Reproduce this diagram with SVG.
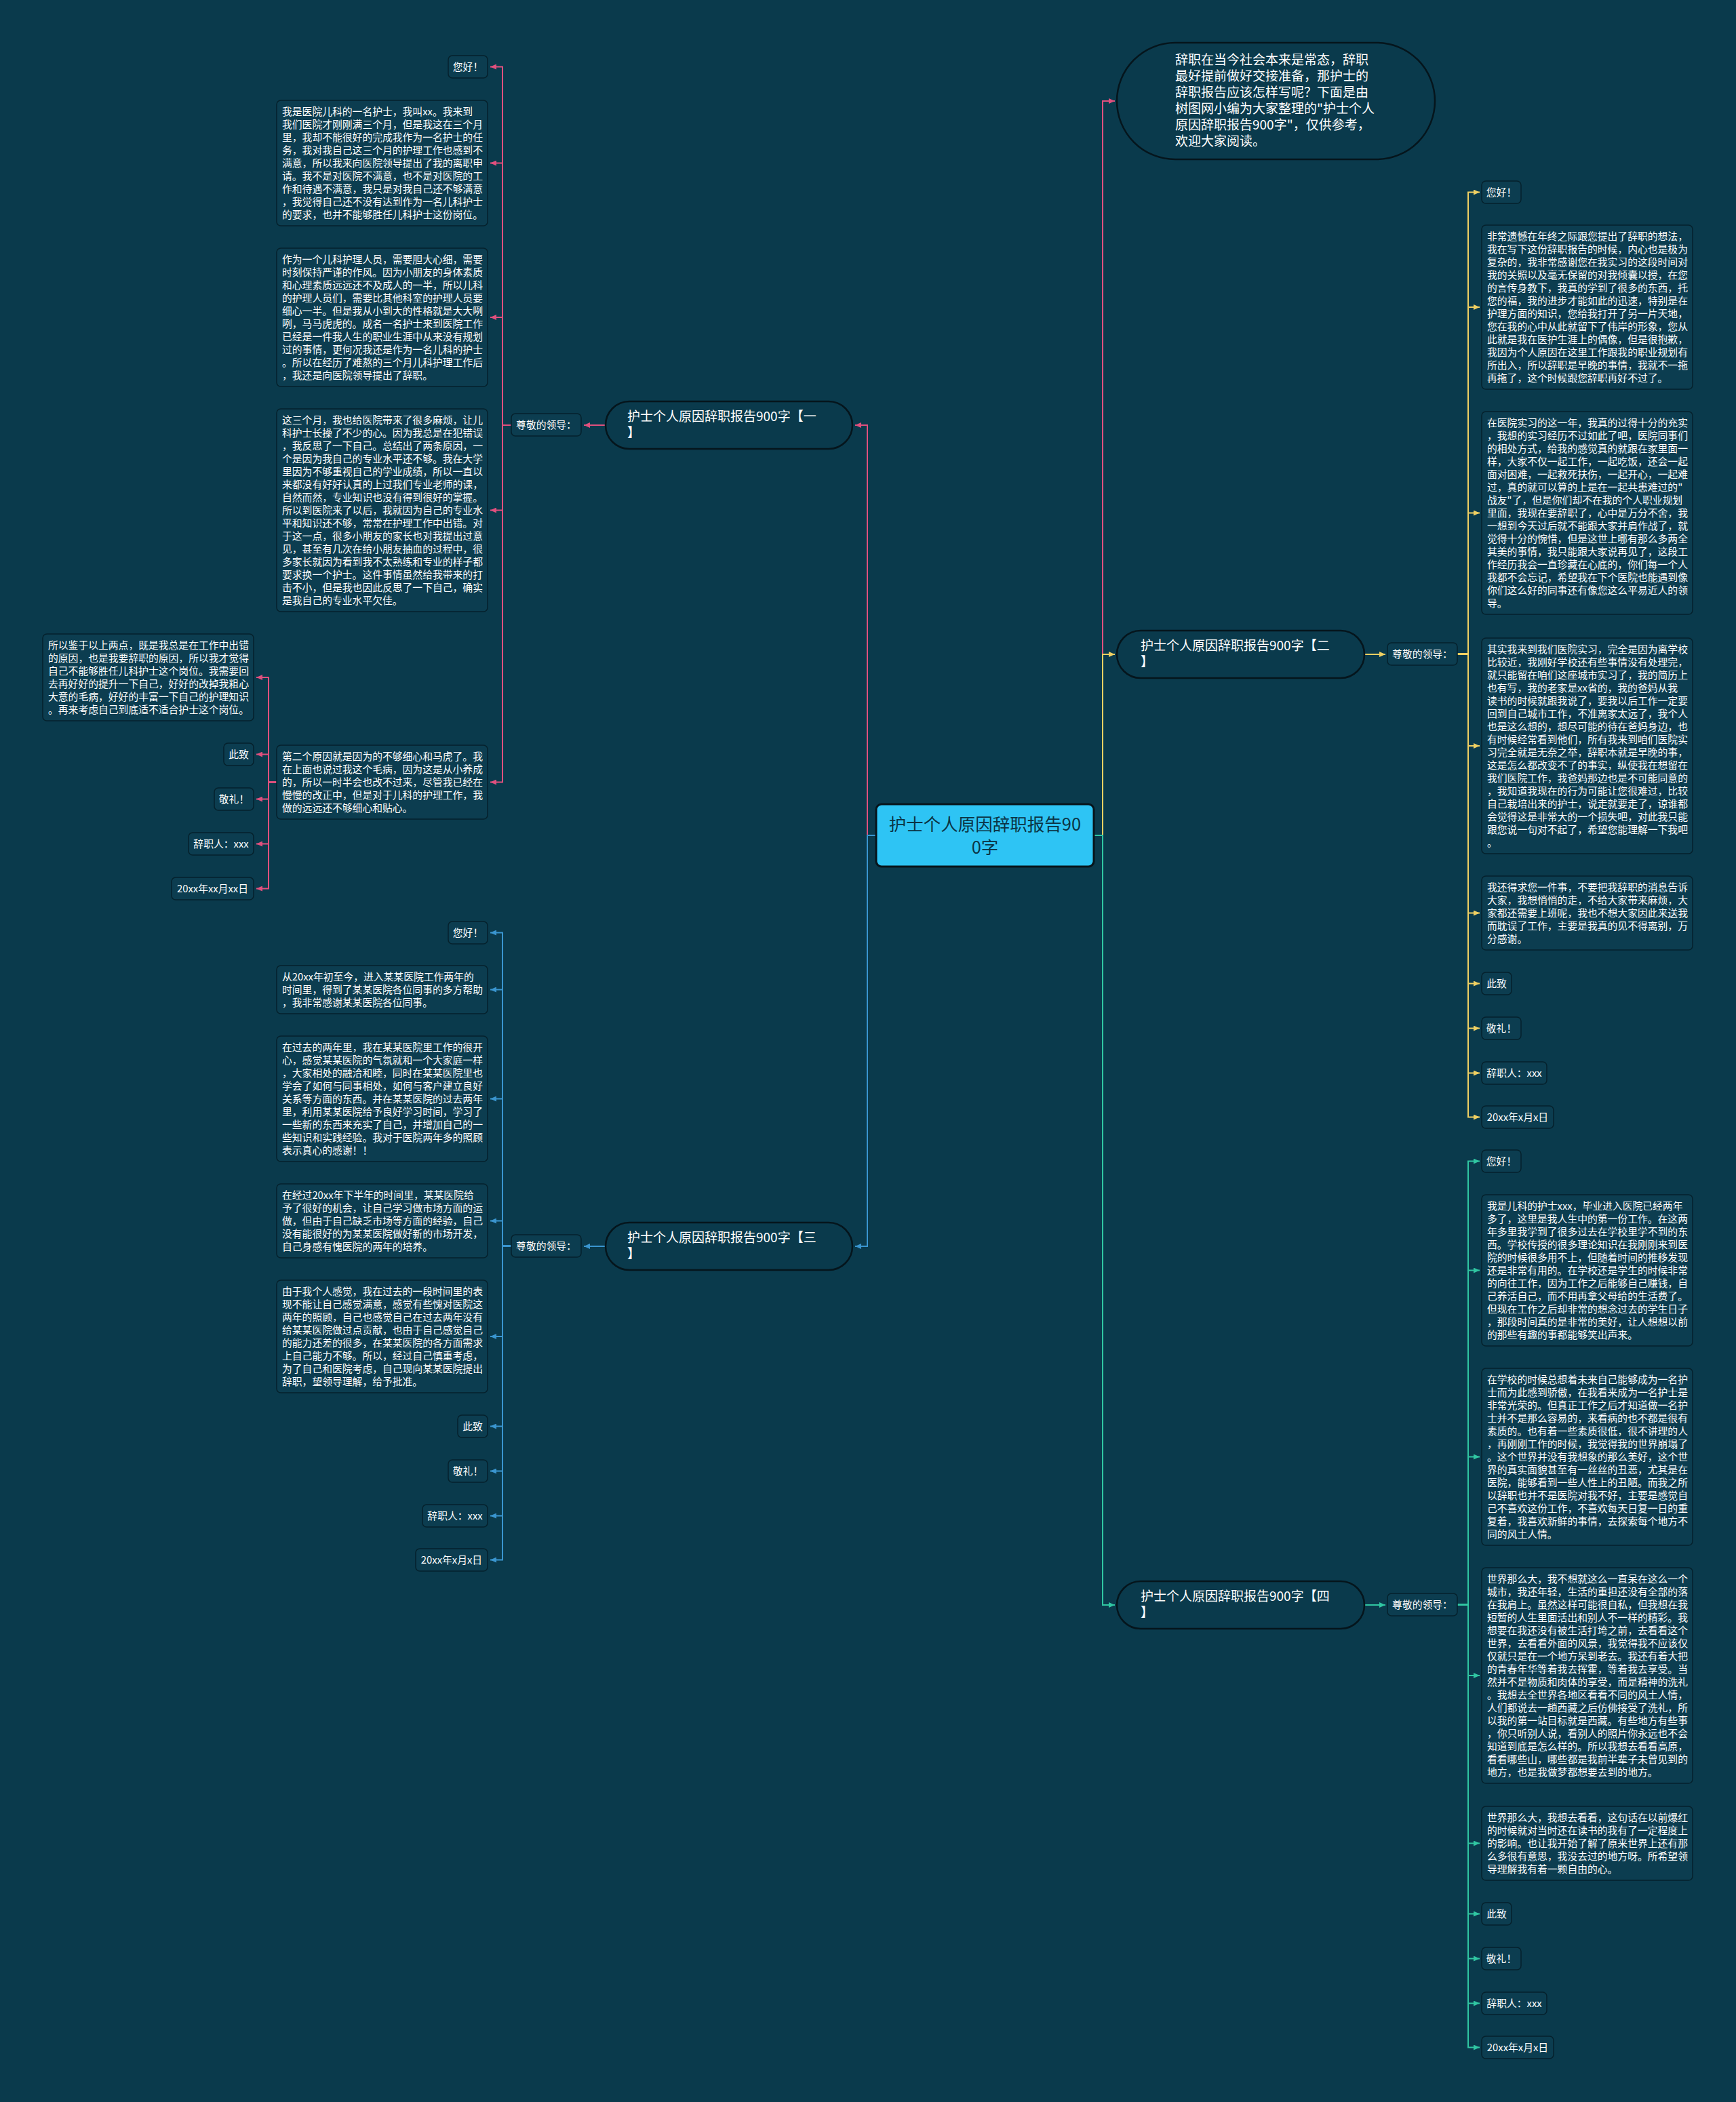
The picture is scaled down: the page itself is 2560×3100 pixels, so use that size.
<svg xmlns="http://www.w3.org/2000/svg" width="2560" height="3100" viewBox="0 0 2560 3100">
<defs>
<style>
.t{font-family:"Noto Sans CJK SC","Noto Sans",sans-serif;font-size:14.8px;fill:#ffffff}
.tm{font-family:"Noto Sans CJK SC","Noto Sans",sans-serif;font-size:14.8px;fill:#ffffff;text-anchor:middle}
.tb{font-family:"Noto Sans CJK SC","Noto Sans",sans-serif;font-size:19px;fill:#ffffff}
.ti{font-family:"Noto Sans CJK SC","Noto Sans",sans-serif;font-size:19px;fill:#ffffff}
.tc{font-family:"Noto Sans CJK SC","Noto Sans",sans-serif;font-size:25.5px;fill:#0b3445;text-anchor:middle}
.box{fill:#0c3d50;stroke:#05212c;stroke-width:1.5}
.pill{fill:#0a3a4c;stroke:#05151c;stroke-width:2.5}
.pk{fill:none;stroke:#e0507e;stroke-width:2}
.yl{fill:none;stroke:#f0d062;stroke-width:2}
.bl{fill:none;stroke:#3a95cf;stroke-width:2}
.tl{fill:none;stroke:#30c6a2;stroke-width:2}
</style>
<marker id="apk" markerUnits="userSpaceOnUse" markerWidth="9" markerHeight="8" refX="9" refY="4" orient="auto"><path d="M0,0 L9,4 L0,8 z" fill="#e0507e"/></marker>
<marker id="ayl" markerUnits="userSpaceOnUse" markerWidth="9" markerHeight="8" refX="9" refY="4" orient="auto"><path d="M0,0 L9,4 L0,8 z" fill="#f0d062"/></marker>
<marker id="abl" markerUnits="userSpaceOnUse" markerWidth="9" markerHeight="8" refX="9" refY="4" orient="auto"><path d="M0,0 L9,4 L0,8 z" fill="#3a95cf"/></marker>
<marker id="atl" markerUnits="userSpaceOnUse" markerWidth="9" markerHeight="8" refX="9" refY="4" orient="auto"><path d="M0,0 L9,4 L0,8 z" fill="#30c6a2"/></marker>
</defs>
<rect x="0" y="0" width="2560" height="3100" fill="#0a3a4c"/>

<g id="connectors">
<path class="pk" d="M1292,1232 H1279 V627 H1261" marker-end="url(#apk)"/>
<path class="bl" d="M1292,1232 H1279 V1838 H1261" marker-end="url(#abl)"/>
<path class="pk" d="M1613,1232 H1626 V149 H1644" marker-end="url(#apk)"/>
<path class="yl" d="M1613,1232 H1626 V965 H1644" marker-end="url(#ayl)"/>
<path class="tl" d="M1613,1232 H1626 V2367 H1644" marker-end="url(#atl)"/>
<path class="pk" d="M893,627 H861" marker-end="url(#apk)"/>
<path class="pk" d="M754,627 H741 V98.5 H723" marker-end="url(#apk)"/>
<path class="pk" d="M754,627 H741 V240.5 H723" marker-end="url(#apk)"/>
<path class="pk" d="M754,627 H741 V468 H723" marker-end="url(#apk)"/>
<path class="pk" d="M754,627 H741 V752.5 H723" marker-end="url(#apk)"/>
<path class="pk" d="M754,627 H741 V1153.5 H723" marker-end="url(#apk)"/>
<path class="pk" d="M408,1153.5 H396 V999 H378" marker-end="url(#apk)"/>
<path class="pk" d="M408,1153.5 H396 V1112.5 H378" marker-end="url(#apk)"/>
<path class="pk" d="M408,1153.5 H396 V1178.5 H378" marker-end="url(#apk)"/>
<path class="pk" d="M408,1153.5 H396 V1244.5 H378" marker-end="url(#apk)"/>
<path class="pk" d="M408,1153.5 H396 V1310.5 H378" marker-end="url(#apk)"/>
<path class="bl" d="M893,1838 H861" marker-end="url(#abl)"/>
<path class="bl" d="M754,1837.5 H741 V1375.5 H723" marker-end="url(#abl)"/>
<path class="bl" d="M754,1837.5 H741 V1459.5 H723" marker-end="url(#abl)"/>
<path class="bl" d="M754,1837.5 H741 V1620.5 H723" marker-end="url(#abl)"/>
<path class="bl" d="M754,1837.5 H741 V1800.5 H723" marker-end="url(#abl)"/>
<path class="bl" d="M754,1837.5 H741 V1971 H723" marker-end="url(#abl)"/>
<path class="bl" d="M754,1837.5 H741 V2103.5 H723" marker-end="url(#abl)"/>
<path class="bl" d="M754,1837.5 H741 V2169.5 H723" marker-end="url(#abl)"/>
<path class="bl" d="M754,1837.5 H741 V2235.5 H723" marker-end="url(#abl)"/>
<path class="bl" d="M754,1837.5 H741 V2300.5 H723" marker-end="url(#abl)"/>
<path class="yl" d="M2012,965 H2043" marker-end="url(#ayl)"/>
<path class="yl" d="M2149,964.5 H2165 V283.5 H2182" marker-end="url(#ayl)"/>
<path class="yl" d="M2149,964.5 H2165 V453 H2182" marker-end="url(#ayl)"/>
<path class="yl" d="M2149,964.5 H2165 V756.5 H2182" marker-end="url(#ayl)"/>
<path class="yl" d="M2149,964.5 H2165 V1100 H2182" marker-end="url(#ayl)"/>
<path class="yl" d="M2149,964.5 H2165 V1346.5 H2182" marker-end="url(#ayl)"/>
<path class="yl" d="M2149,964.5 H2165 V1450.5 H2182" marker-end="url(#ayl)"/>
<path class="yl" d="M2149,964.5 H2165 V1516.5 H2182" marker-end="url(#ayl)"/>
<path class="yl" d="M2149,964.5 H2165 V1582.5 H2182" marker-end="url(#ayl)"/>
<path class="yl" d="M2149,964.5 H2165 V1647.5 H2182" marker-end="url(#ayl)"/>
<path class="tl" d="M2012,2367 H2043" marker-end="url(#atl)"/>
<path class="tl" d="M2149,2366.5 H2165 V1712.5 H2182" marker-end="url(#atl)"/>
<path class="tl" d="M2149,2366.5 H2165 V1873.5 H2182" marker-end="url(#atl)"/>
<path class="tl" d="M2149,2366.5 H2165 V2148.5 H2182" marker-end="url(#atl)"/>
<path class="tl" d="M2149,2366.5 H2165 V2471 H2182" marker-end="url(#atl)"/>
<path class="tl" d="M2149,2366.5 H2165 V2718.5 H2182" marker-end="url(#atl)"/>
<path class="tl" d="M2149,2366.5 H2165 V2822.5 H2182" marker-end="url(#atl)"/>
<path class="tl" d="M2149,2366.5 H2165 V2888.5 H2182" marker-end="url(#atl)"/>
<path class="tl" d="M2149,2366.5 H2165 V2954.5 H2182" marker-end="url(#atl)"/>
<path class="tl" d="M2149,2366.5 H2165 V3019.5 H2182" marker-end="url(#atl)"/>
</g>

<g id="center">
<rect x="1292" y="1186" width="321" height="92" rx="8" fill="#2ec4f4" stroke="#07141b" stroke-width="3"/>
<text class="tc" x="1452.5" y="1225">护士个人原因辞职报告90</text>
<text class="tc" x="1452.5" y="1259">0字</text>
</g>

<g id="intro">
<rect x="1647" y="63" width="469" height="172" rx="86" class="pill"/>
<text class="ti" x="1733" y="95"><tspan x="1733" dy="0">辞职在当今社会本来是常态，辞职</tspan><tspan x="1733" dy="24">最好提前做好交接准备，那护士的</tspan><tspan x="1733" dy="24">辞职报告应该怎样写呢？下面是由</tspan><tspan x="1733" dy="24">树图网小编为大家整理的"护士个人</tspan><tspan x="1733" dy="24">原因辞职报告900字"，仅供参考，</tspan><tspan x="1733" dy="24">欢迎大家阅读。</tspan></text>
</g>

<g id="b1">
<rect x="893" y="592" width="364" height="70" rx="35" class="pill"/>
<text class="tb" x="925" y="621"><tspan x="925" dy="0">护士个人原因辞职报告900字【一</tspan><tspan x="925" dy="24">】</tspan></text>
</g>
<g id="b1-lead"><rect class="box" x="754" y="610" width="103" height="33" rx="6"/><text class="tm" x="805.5" y="632">尊敬的领导：</text></g>
<g id="b1-hello"><rect class="box" x="661" y="82" width="58" height="33" rx="6"/><text class="tm" x="690" y="104">您好！</text></g>
<g id="b1-p1"><rect class="box" x="408" y="148" width="311" height="185" rx="6"/>
<text class="t" x="416" y="170"><tspan x="416" dy="0">我是医院儿科的一名护士，我叫xx。我来到</tspan><tspan x="416" dy="19">我们医院才刚刚满三个月，但是我这在三个月</tspan><tspan x="416" dy="19">里，我却不能很好的完成我作为一名护士的任</tspan><tspan x="416" dy="19">务，我对我自己这三个月的护理工作也感到不</tspan><tspan x="416" dy="19">满意，所以我来向医院领导提出了我的离职申</tspan><tspan x="416" dy="19">请。我不是对医院不满意，也不是对医院的工</tspan><tspan x="416" dy="19">作和待遇不满意，我只是对我自己还不够满意</tspan><tspan x="416" dy="19">，我觉得自己还不没有达到作为一名儿科护士</tspan><tspan x="416" dy="19">的要求，也并不能够胜任儿科护士这份岗位。</tspan></text></g>
<g id="b1-p2"><rect class="box" x="408" y="366" width="311" height="204" rx="6"/>
<text class="t" x="416" y="388"><tspan x="416" dy="0">作为一个儿科护理人员，需要胆大心细，需要</tspan><tspan x="416" dy="19">时刻保持严谨的作风。因为小朋友的身体素质</tspan><tspan x="416" dy="19">和心理素质远远还不及成人的一半，所以儿科</tspan><tspan x="416" dy="19">的护理人员们，需要比其他科室的护理人员要</tspan><tspan x="416" dy="19">细心一半。但是我从小到大的性格就是大大咧</tspan><tspan x="416" dy="19">咧，马马虎虎的。成名一名护士来到医院工作</tspan><tspan x="416" dy="19">已经是一件我人生的职业生涯中从来没有规划</tspan><tspan x="416" dy="19">过的事情，更何况我还是作为一名儿科的护士</tspan><tspan x="416" dy="19">。所以在经历了难熬的三个月儿科护理工作后</tspan><tspan x="416" dy="19">，我还是向医院领导提出了辞职。</tspan></text></g>
<g id="b1-p3"><rect class="box" x="408" y="603" width="311" height="299" rx="6"/>
<text class="t" x="416" y="625"><tspan x="416" dy="0">这三个月，我也给医院带来了很多麻烦，让儿</tspan><tspan x="416" dy="19">科护士长操了不少的心。因为我总是在犯错误</tspan><tspan x="416" dy="19">，我反思了一下自己。总结出了两条原因，一</tspan><tspan x="416" dy="19">个是因为我自己的专业水平还不够。我在大学</tspan><tspan x="416" dy="19">里因为不够重视自己的学业成绩，所以一直以</tspan><tspan x="416" dy="19">来都没有好好认真的上过我们专业老师的课，</tspan><tspan x="416" dy="19">自然而然，专业知识也没有得到很好的掌握。</tspan><tspan x="416" dy="19">所以到医院来了以后，我就因为自己的专业水</tspan><tspan x="416" dy="19">平和知识还不够，常常在护理工作中出错。对</tspan><tspan x="416" dy="19">于这一点，很多小朋友的家长也对我提出过意</tspan><tspan x="416" dy="19">见，甚至有几次在给小朋友抽血的过程中，很</tspan><tspan x="416" dy="19">多家长就因为看到我不太熟练和专业的样子都</tspan><tspan x="416" dy="19">要求换一个护士。这件事情虽然给我带来的打</tspan><tspan x="416" dy="19">击不小，但是我也因此反思了一下自己，确实</tspan><tspan x="416" dy="19">是我自己的专业水平欠佳。</tspan></text></g>
<g id="b1-p4"><rect class="box" x="408" y="1099" width="311" height="109" rx="6"/>
<text class="t" x="416" y="1121"><tspan x="416" dy="0">第二个原因就是因为的不够细心和马虎了。我</tspan><tspan x="416" dy="19">在上面也说过我这个毛病，因为这是从小养成</tspan><tspan x="416" dy="19">的，所以一时半会也改不过来，尽管我已经在</tspan><tspan x="416" dy="19">慢慢的改正中，但是对于儿科的护理工作，我</tspan><tspan x="416" dy="19">做的远远还不够细心和贴心。</tspan></text></g>
<g id="b1-p5"><rect class="box" x="63" y="935" width="311" height="128" rx="6"/>
<text class="t" x="71" y="957"><tspan x="71" dy="0">所以鉴于以上两点，既是我总是在工作中出错</tspan><tspan x="71" dy="19">的原因，也是我要辞职的原因，所以我才觉得</tspan><tspan x="71" dy="19">自己不能够胜任儿科护士这个岗位。我需要回</tspan><tspan x="71" dy="19">去再好好的提升一下自己，好好的改掉我粗心</tspan><tspan x="71" dy="19">大意的毛病，好好的丰富一下自己的护理知识</tspan><tspan x="71" dy="19">。再来考虑自己到底适不适合护士这个岗位。</tspan></text></g>
<g id="b1-zhi"><rect class="box" x="330" y="1096" width="44" height="33" rx="6"/><text class="tm" x="352" y="1118">此致</text></g>
<g id="b1-li"><rect class="box" x="316" y="1162" width="58" height="33" rx="6"/><text class="tm" x="345" y="1184">敬礼！</text></g>
<g id="b1-ren"><rect class="box" x="278" y="1228" width="96" height="33" rx="6"/><text class="tm" x="326" y="1250">辞职人：xxx</text></g>
<g id="b1-date"><rect class="box" x="253" y="1294" width="121" height="33" rx="6"/><text class="tm" x="313.5" y="1316">20xx年xx月xx日</text></g>

<g id="b3">
<rect x="893" y="1803" width="364" height="70" rx="35" class="pill"/>
<text class="tb" x="925" y="1832"><tspan x="925" dy="0">护士个人原因辞职报告900字【三</tspan><tspan x="925" dy="24">】</tspan></text>
</g>
<g id="b3-lead"><rect class="box" x="754" y="1821" width="103" height="33" rx="6"/><text class="tm" x="805.5" y="1843">尊敬的领导：</text></g>
<g id="b3-hello"><rect class="box" x="661" y="1359" width="58" height="33" rx="6"/><text class="tm" x="690" y="1381">您好！</text></g>
<g id="b3-p1"><rect class="box" x="408" y="1424" width="311" height="71" rx="6"/>
<text class="t" x="416" y="1446"><tspan x="416" dy="0">从20xx年初至今，进入某某医院工作两年的</tspan><tspan x="416" dy="19">时间里，得到了某某医院各位同事的多方帮助</tspan><tspan x="416" dy="19">，我非常感谢某某医院各位同事。</tspan></text></g>
<g id="b3-p2"><rect class="box" x="408" y="1528" width="311" height="185" rx="6"/>
<text class="t" x="416" y="1550"><tspan x="416" dy="0">在过去的两年里，我在某某医院里工作的很开</tspan><tspan x="416" dy="19">心，感觉某某医院的气氛就和一个大家庭一样</tspan><tspan x="416" dy="19">，大家相处的融洽和睦，同时在某某医院里也</tspan><tspan x="416" dy="19">学会了如何与同事相处，如何与客户建立良好</tspan><tspan x="416" dy="19">关系等方面的东西。并在某某医院的过去两年</tspan><tspan x="416" dy="19">里，利用某某医院给予良好学习时间，学习了</tspan><tspan x="416" dy="19">一些新的东西来充实了自己，并增加自己的一</tspan><tspan x="416" dy="19">些知识和实践经验。我对于医院两年多的照顾</tspan><tspan x="416" dy="19">表示真心的感谢！！</tspan></text></g>
<g id="b3-p3"><rect class="box" x="408" y="1746" width="311" height="109" rx="6"/>
<text class="t" x="416" y="1768"><tspan x="416" dy="0">在经过20xx年下半年的时间里，某某医院给</tspan><tspan x="416" dy="19">予了很好的机会，让自己学习做市场方面的运</tspan><tspan x="416" dy="19">做，但由于自己缺乏市场等方面的经验，自己</tspan><tspan x="416" dy="19">没有能很好的为某某医院做好新的市场开发，</tspan><tspan x="416" dy="19">自己身感有愧医院的两年的培养。</tspan></text></g>
<g id="b3-p4"><rect class="box" x="408" y="1888" width="311" height="166" rx="6"/>
<text class="t" x="416" y="1910"><tspan x="416" dy="0">由于我个人感觉，我在过去的一段时间里的表</tspan><tspan x="416" dy="19">现不能让自己感觉满意，感觉有些愧对医院这</tspan><tspan x="416" dy="19">两年的照顾，自己也感觉自己在过去两年没有</tspan><tspan x="416" dy="19">给某某医院做过点贡献，也由于自己感觉自己</tspan><tspan x="416" dy="19">的能力还差的很多，在某某医院的各方面需求</tspan><tspan x="416" dy="19">上自己能力不够。所以，经过自己慎重考虑，</tspan><tspan x="416" dy="19">为了自己和医院考虑，自己现向某某医院提出</tspan><tspan x="416" dy="19">辞职，望领导理解，给予批准。</tspan></text></g>
<g id="b3-zhi"><rect class="box" x="675" y="2087" width="44" height="33" rx="6"/><text class="tm" x="697" y="2109">此致</text></g>
<g id="b3-li"><rect class="box" x="661" y="2153" width="58" height="33" rx="6"/><text class="tm" x="690" y="2175">敬礼！</text></g>
<g id="b3-ren"><rect class="box" x="623" y="2219" width="96" height="33" rx="6"/><text class="tm" x="671" y="2241">辞职人：xxx</text></g>
<g id="b3-date"><rect class="box" x="613" y="2284" width="106" height="33" rx="6"/><text class="tm" x="666" y="2306">20xx年x月x日</text></g>

<g id="b2">
<rect x="1647" y="930" width="365" height="70" rx="35" class="pill"/>
<text class="tb" x="1682" y="959"><tspan x="1682" dy="0">护士个人原因辞职报告900字【二</tspan><tspan x="1682" dy="24">】</tspan></text>
</g>
<g id="b2-lead"><rect class="box" x="2046" y="948" width="103" height="33" rx="6"/><text class="tm" x="2097.5" y="970">尊敬的领导：</text></g>
<g id="b2-hello"><rect class="box" x="2185" y="267" width="58" height="33" rx="6"/><text class="tm" x="2214" y="289">您好！</text></g>
<g id="b2-p1"><rect class="box" x="2185" y="332" width="311" height="242" rx="6"/>
<text class="t" x="2193" y="354"><tspan x="2193" dy="0">非常遗憾在年终之际跟您提出了辞职的想法，</tspan><tspan x="2193" dy="19">我在写下这份辞职报告的时候，内心也是极为</tspan><tspan x="2193" dy="19">复杂的，我非常感谢您在我实习的这段时间对</tspan><tspan x="2193" dy="19">我的关照以及毫无保留的对我倾囊以授，在您</tspan><tspan x="2193" dy="19">的言传身教下，我真的学到了很多的东西，托</tspan><tspan x="2193" dy="19">您的福，我的进步才能如此的迅速，特别是在</tspan><tspan x="2193" dy="19">护理方面的知识，您给我打开了另一片天地，</tspan><tspan x="2193" dy="19">您在我的心中从此就留下了伟岸的形象，您从</tspan><tspan x="2193" dy="19">此就是我在医护生涯上的偶像，但是很抱歉，</tspan><tspan x="2193" dy="19">我因为个人原因在这里工作跟我的职业规划有</tspan><tspan x="2193" dy="19">所出入，所以辞职是早晚的事情，我就不一拖</tspan><tspan x="2193" dy="19">再拖了，这个时候跟您辞职再好不过了。</tspan></text></g>
<g id="b2-p2"><rect class="box" x="2185" y="607" width="311" height="299" rx="6"/>
<text class="t" x="2193" y="629"><tspan x="2193" dy="0">在医院实习的这一年，我真的过得十分的充实</tspan><tspan x="2193" dy="19">，我想的实习经历不过如此了吧，医院同事们</tspan><tspan x="2193" dy="19">的相处方式，给我的感觉真的就跟在家里面一</tspan><tspan x="2193" dy="19">样，大家不仅一起工作，一起吃饭，还会一起</tspan><tspan x="2193" dy="19">面对困难，一起救死扶伤，一起开心，一起难</tspan><tspan x="2193" dy="19">过，真的就可以算的上是在一起共患难过的"</tspan><tspan x="2193" dy="19">战友"了，但是你们却不在我的个人职业规划</tspan><tspan x="2193" dy="19">里面，我现在要辞职了，心中是万分不舍，我</tspan><tspan x="2193" dy="19">一想到今天过后就不能跟大家并肩作战了，就</tspan><tspan x="2193" dy="19">觉得十分的惋惜，但是这世上哪有那么多两全</tspan><tspan x="2193" dy="19">其美的事情，我只能跟大家说再见了，这段工</tspan><tspan x="2193" dy="19">作经历我会一直珍藏在心底的，你们每一个人</tspan><tspan x="2193" dy="19">我都不会忘记，希望我在下个医院也能遇到像</tspan><tspan x="2193" dy="19">你们这么好的同事还有像您这么平易近人的领</tspan><tspan x="2193" dy="19">导。</tspan></text></g>
<g id="b2-p3"><rect class="box" x="2185" y="941" width="311" height="318" rx="6"/>
<text class="t" x="2193" y="963"><tspan x="2193" dy="0">其实我来到我们医院实习，完全是因为离学校</tspan><tspan x="2193" dy="19">比较近，我刚好学校还有些事情没有处理完，</tspan><tspan x="2193" dy="19">就只能留在咱们这座城市实习了，我的简历上</tspan><tspan x="2193" dy="19">也有写，我的老家是xx省的，我的爸妈从我</tspan><tspan x="2193" dy="19">读书的时候就跟我说了，要我以后工作一定要</tspan><tspan x="2193" dy="19">回到自己城市工作，不准离家太远了，我个人</tspan><tspan x="2193" dy="19">也是这么想的，想尽可能的待在爸妈身边，也</tspan><tspan x="2193" dy="19">有时候经常看到他们，所有我来到咱们医院实</tspan><tspan x="2193" dy="19">习完全就是无奈之举，辞职本就是早晚的事，</tspan><tspan x="2193" dy="19">这是怎么都改变不了的事实，纵使我在想留在</tspan><tspan x="2193" dy="19">我们医院工作，我爸妈那边也是不可能同意的</tspan><tspan x="2193" dy="19">，我知道我现在的行为可能让您很难过，比较</tspan><tspan x="2193" dy="19">自己栽培出来的护士，说走就要走了，谅谁都</tspan><tspan x="2193" dy="19">会觉得这是非常大的一个损失吧，对此我只能</tspan><tspan x="2193" dy="19">跟您说一句对不起了，希望您能理解一下我吧</tspan><tspan x="2193" dy="19">。</tspan></text></g>
<g id="b2-p4"><rect class="box" x="2185" y="1292" width="311" height="109" rx="6"/>
<text class="t" x="2193" y="1314"><tspan x="2193" dy="0">我还得求您一件事，不要把我辞职的消息告诉</tspan><tspan x="2193" dy="19">大家，我想悄悄的走，不给大家带来麻烦，大</tspan><tspan x="2193" dy="19">家都还需要上班呢，我也不想大家因此来送我</tspan><tspan x="2193" dy="19">而耽误了工作，主要是我真的见不得离别，万</tspan><tspan x="2193" dy="19">分感谢。</tspan></text></g>
<g id="b2-zhi"><rect class="box" x="2185" y="1434" width="44" height="33" rx="6"/><text class="tm" x="2207" y="1456">此致</text></g>
<g id="b2-li"><rect class="box" x="2185" y="1500" width="58" height="33" rx="6"/><text class="tm" x="2214" y="1522">敬礼！</text></g>
<g id="b2-ren"><rect class="box" x="2185" y="1566" width="96" height="33" rx="6"/><text class="tm" x="2233" y="1588">辞职人：xxx</text></g>
<g id="b2-date"><rect class="box" x="2185" y="1631" width="106" height="33" rx="6"/><text class="tm" x="2238" y="1653">20xx年x月x日</text></g>

<g id="b4">
<rect x="1647" y="2332" width="365" height="70" rx="35" class="pill"/>
<text class="tb" x="1682" y="2361"><tspan x="1682" dy="0">护士个人原因辞职报告900字【四</tspan><tspan x="1682" dy="24">】</tspan></text>
</g>
<g id="b4-lead"><rect class="box" x="2046" y="2350" width="103" height="33" rx="6"/><text class="tm" x="2097.5" y="2372">尊敬的领导：</text></g>
<g id="b4-hello"><rect class="box" x="2185" y="1696" width="58" height="33" rx="6"/><text class="tm" x="2214" y="1718">您好！</text></g>
<g id="b4-p1"><rect class="box" x="2185" y="1762" width="311" height="223" rx="6"/>
<text class="t" x="2193" y="1784"><tspan x="2193" dy="0">我是儿科的护士xxx，毕业进入医院已经两年</tspan><tspan x="2193" dy="19">多了，这里是我人生中的第一份工作。在这两</tspan><tspan x="2193" dy="19">年多里我学到了很多过去在学校里学不到的东</tspan><tspan x="2193" dy="19">西。学校传授的很多理论知识在我刚刚来到医</tspan><tspan x="2193" dy="19">院的时候很多用不上，但随着时间的推移发现</tspan><tspan x="2193" dy="19">还是非常有用的。在学校还是学生的时候非常</tspan><tspan x="2193" dy="19">的向往工作，因为工作之后能够自己赚钱，自</tspan><tspan x="2193" dy="19">己养活自己，而不用再拿父母给的生活费了。</tspan><tspan x="2193" dy="19">但现在工作之后却非常的想念过去的学生日子</tspan><tspan x="2193" dy="19">，那段时间真的是非常的美好，让人想想以前</tspan><tspan x="2193" dy="19">的那些有趣的事都能够笑出声来。</tspan></text></g>
<g id="b4-p2"><rect class="box" x="2185" y="2018" width="311" height="261" rx="6"/>
<text class="t" x="2193" y="2040"><tspan x="2193" dy="0">在学校的时候总想着未来自己能够成为一名护</tspan><tspan x="2193" dy="19">士而为此感到骄傲，在我看来成为一名护士是</tspan><tspan x="2193" dy="19">非常光荣的。但真正工作之后才知道做一名护</tspan><tspan x="2193" dy="19">士并不是那么容易的，来看病的也不都是很有</tspan><tspan x="2193" dy="19">素质的。也有着一些素质很低，很不讲理的人</tspan><tspan x="2193" dy="19">，再刚刚工作的时候，我觉得我的世界崩塌了</tspan><tspan x="2193" dy="19">。这个世界并没有我想象的那么美好，这个世</tspan><tspan x="2193" dy="19">界的真实面貌甚至有一丝丝的丑恶，尤其是在</tspan><tspan x="2193" dy="19">医院，能够看到一些人性上的丑陋。而我之所</tspan><tspan x="2193" dy="19">以辞职也并不是医院对我不好，主要是感觉自</tspan><tspan x="2193" dy="19">己不喜欢这份工作，不喜欢每天日复一日的重</tspan><tspan x="2193" dy="19">复着，我喜欢新鲜的事情，去探索每个地方不</tspan><tspan x="2193" dy="19">同的风土人情。</tspan></text></g>
<g id="b4-p3"><rect class="box" x="2185" y="2312" width="311" height="318" rx="6"/>
<text class="t" x="2193" y="2334"><tspan x="2193" dy="0">世界那么大，我不想就这么一直呆在这么一个</tspan><tspan x="2193" dy="19">城市，我还年轻，生活的重担还没有全部的落</tspan><tspan x="2193" dy="19">在我肩上。虽然这样可能很自私，但我想在我</tspan><tspan x="2193" dy="19">短暂的人生里面活出和别人不一样的精彩。我</tspan><tspan x="2193" dy="19">想要在我还没有被生活打垮之前，去看看这个</tspan><tspan x="2193" dy="19">世界，去看看外面的风景，我觉得我不应该仅</tspan><tspan x="2193" dy="19">仅就只是在一个地方呆到老去。我还有着大把</tspan><tspan x="2193" dy="19">的青春年华等着我去挥霍，等着我去享受。当</tspan><tspan x="2193" dy="19">然并不是物质和肉体的享受，而是精神的洗礼</tspan><tspan x="2193" dy="19">。我想去全世界各地区看看不同的风土人情，</tspan><tspan x="2193" dy="19">人们都说去一趟西藏之后仿佛接受了洗礼，所</tspan><tspan x="2193" dy="19">以我的第一站目标就是西藏。有些地方有些事</tspan><tspan x="2193" dy="19">，你只听别人说，看别人的照片你永远也不会</tspan><tspan x="2193" dy="19">知道到底是怎么样的。所以我想去看看高原，</tspan><tspan x="2193" dy="19">看看哪些山，哪些都是我前半辈子未曾见到的</tspan><tspan x="2193" dy="19">地方，也是我做梦都想要去到的地方。</tspan></text></g>
<g id="b4-p4"><rect class="box" x="2185" y="2664" width="311" height="109" rx="6"/>
<text class="t" x="2193" y="2686"><tspan x="2193" dy="0">世界那么大，我想去看看，这句话在以前爆红</tspan><tspan x="2193" dy="19">的时候就对当时还在读书的我有了一定程度上</tspan><tspan x="2193" dy="19">的影响。也让我开始了解了原来世界上还有那</tspan><tspan x="2193" dy="19">么多很有意思，我没去过的地方呀。所希望领</tspan><tspan x="2193" dy="19">导理解我有着一颗自由的心。</tspan></text></g>
<g id="b4-zhi"><rect class="box" x="2185" y="2806" width="44" height="33" rx="6"/><text class="tm" x="2207" y="2828">此致</text></g>
<g id="b4-li"><rect class="box" x="2185" y="2872" width="58" height="33" rx="6"/><text class="tm" x="2214" y="2894">敬礼！</text></g>
<g id="b4-ren"><rect class="box" x="2185" y="2938" width="96" height="33" rx="6"/><text class="tm" x="2233" y="2960">辞职人：xxx</text></g>
<g id="b4-date"><rect class="box" x="2185" y="3003" width="106" height="33" rx="6"/><text class="tm" x="2238" y="3025">20xx年x月x日</text></g>
</svg>
